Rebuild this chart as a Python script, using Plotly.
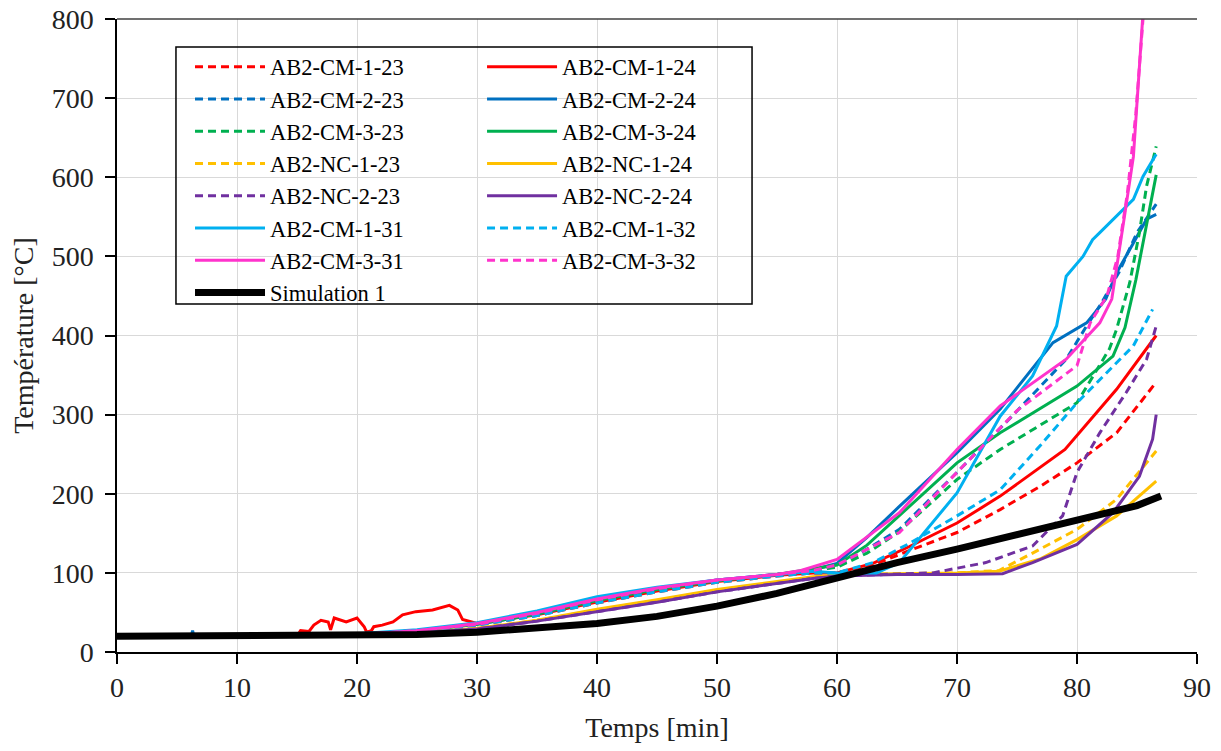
import plotly.graph_objects as go

FONT = "Liberation Serif"

# ---------------- data ----------------
# AB2-CM-1-23 (red, dashed)
cm1_23_t = [0, 20, 25, 30, 35, 40, 45, 50, 55, 58, 60, 63, 66, 70, 73.6, 77, 80, 83.3, 86.6]
cm1_23_T = [20, 22, 27, 34, 46, 62, 76, 88, 96, 100, 100, 110, 128, 151, 180, 210, 239, 277, 341]

# AB2-CM-1-24 (red, solid) - includes the noisy segment between 15 and 29 min
cm1_24_t = [0, 15, 15.3, 16, 16.4, 17, 17.6, 17.8, 18.1, 19.1, 20, 20.6, 20.8, 21.2, 21.4, 22.1,
            23, 23.8, 24.9, 26.3, 27.7, 28.4, 28.8, 30, 35, 40, 45, 50, 55, 58, 60, 63, 66,
            70, 73.6, 79, 83.3, 86.6]
cm1_24_T = [20, 20, 27, 26, 34, 40, 38, 28, 43, 38, 43, 32, 25, 27, 32, 34,
            38, 47, 51, 53, 59, 53, 41, 36, 47, 63, 77, 89, 97, 100, 100, 112, 133,
            163, 197, 256, 332, 400]

# AB2-CM-2-23 (dark blue, dashed)
cm2_23_t = [0, 20, 25, 30, 35, 40, 45, 50, 55, 58, 60, 62.5, 65.2, 70, 74.9, 79.1, 80.8, 82, 83.5, 85, 86.6]
cm2_23_T = [20, 22, 27, 35, 48, 65, 79, 90, 98, 103, 108, 130, 155, 227, 303, 370, 412, 440, 480, 530, 566]

# AB2-CM-2-24 (dark blue, solid)
cm2_24_t = [0, 6.2, 6.3, 6.4, 20, 25, 30, 35, 40, 45, 50, 55, 58, 60, 62.5, 65.2, 70, 73.6, 78,
            80.8, 82.4, 83.3, 84.7, 85.8, 86.6]
cm2_24_T = [20, 20, 27, 20, 22, 27, 35, 48, 66, 80, 91, 98, 104, 112, 145, 184, 252, 307, 391,
            416, 446, 479, 517, 547, 553]

# AB2-CM-3-23 (green, dashed)
cm3_23_t = [0, 20, 25, 30, 35, 40, 45, 50, 55, 58, 60, 62.5, 65, 70, 73.6, 80, 82.7, 83.3, 84.4, 85.2, 85.8, 86.6]
cm3_23_T = [20, 22, 27, 35, 48, 65, 79, 90, 98, 103, 107, 125, 150, 218, 256, 315, 383, 408, 467, 530, 589, 639]

# AB2-CM-3-24 (green, solid)
cm3_24_t = [0, 20, 25, 30, 35, 40, 45, 50, 55, 58, 60, 62.5, 65, 70, 73.6, 80, 83, 84, 84.9, 85.8, 86.6]
cm3_24_T = [20, 22, 27, 35, 48, 65, 79, 90, 98, 105, 110, 135, 170, 239, 277, 336, 374, 410, 470, 538, 603]

# AB2-NC-1-23 (yellow, dashed)
nc1_23_t = [0, 20, 25, 30, 35, 40, 45, 50, 55, 58, 60, 65, 70, 73.5, 76.3, 80, 83.3, 86.6]
nc1_23_T = [20, 21, 24, 30, 40, 53, 65, 78, 88, 94, 97, 99, 100, 103, 125, 155, 193, 254]

# AB2-NC-1-24 (yellow, solid)
nc1_24_t = [0, 20, 25, 30, 35, 40, 45, 50, 55, 58, 60, 65, 70, 73.5, 77, 80, 83.3, 86.6]
nc1_24_T = [20, 21, 24, 30, 40, 54, 66, 79, 89, 95, 97, 99, 100, 102, 118, 142, 172, 216]

# AB2-NC-2-23 (purple, dashed)
nc2_23_t = [0, 20, 25, 30, 35, 40, 45, 50, 55, 58, 60, 65, 68, 72.4, 76.3, 78.8, 80, 81.9, 84.1, 85.8, 86.6]
nc2_23_T = [20, 21, 24, 29, 39, 51, 63, 76, 87, 93, 96, 98, 100, 113, 134, 172, 227, 277, 328, 370, 412]

# AB2-NC-2-24 (purple, solid)
nc2_24_t = [0, 20, 25, 30, 35, 40, 45, 50, 55, 58, 60, 65, 70, 73.8, 76.3, 80, 83, 85.2, 86.3, 86.6]
nc2_24_T = [20, 21, 24, 29, 39, 51, 63, 76, 87, 93, 96, 98, 98, 99, 113, 136, 176, 222, 269, 300]

# AB2-CM-1-31 (light blue, solid)
cm1_31_t = [0, 20, 25, 30, 35, 40, 45, 50, 55, 58, 60, 63.3, 65.2, 70, 73.6, 76.3, 78.3, 79.1,
            80.5, 81.3, 81.9, 83, 83.8, 84.7, 85.5, 86.6]
cm1_31_T = [20, 23, 28, 37, 52, 70, 82, 91, 98, 102, 100, 100, 113, 201, 298, 349, 412, 475,
            500, 521, 530, 547, 559, 572, 601, 629]

# AB2-CM-1-32 (light blue, dashed)
cm1_32_t = [0, 20, 25, 30, 35, 40, 45, 50, 55, 58, 60, 63, 66, 70, 73.6, 77, 80, 84.7, 86.3]
cm1_32_T = [20, 22, 27, 34, 46, 62, 76, 88, 96, 100, 100, 113, 137, 172, 205, 262, 315, 387, 433]

# AB2-CM-3-31 (magenta, solid)
cm3_31_t = [0, 20, 25, 30, 35, 40, 45, 50, 55, 57, 60, 62.5, 65.2, 70, 73.6, 79.1, 81.9, 82.9,
            83.6, 84, 84.7, 85.2, 85.5, 85.6]
cm3_31_T = [20, 22, 27, 36, 50, 67, 81, 91, 98, 103, 117, 145, 176, 256, 311, 370, 416, 446,
            513, 555, 626, 740, 800, 830]

# AB2-CM-3-32 (magenta, dashed)
cm3_32_t = [0, 20, 25, 30, 35, 40, 45, 50, 55, 58, 60, 62.5, 65.2, 70, 75, 80, 81.1, 82.5,
            83.4, 84.2, 84.9, 85.5, 85.6]
cm3_32_T = [20, 22, 27, 35, 49, 66, 80, 91, 98, 103, 110, 130, 151, 227, 305, 362, 416, 450,
            500, 580, 680, 800, 830]

# Simulation 1 (black)
sim_t = [0, 10, 20, 25, 30, 35, 40, 45, 50, 55, 60, 65, 70, 75, 80, 85, 87]
sim_T = [20, 20, 20, 22, 25, 30, 36, 45, 58, 74, 94, 113, 130, 148, 165, 185, 197]

x_ticks = [0, 10, 20, 30, 40, 50, 60, 70, 80, 90]
y_ticks = [0, 100, 200, 300, 400, 500, 600, 700, 800]

# ---------------- styling ----------------
RED, BLUE, GREEN = "#FF0000", "#0070C0", "#00B050"
YELLOW, PURPLE = "#FFC000", "#7030A0"
CYAN, PINK = "#00B0F0", "#FF33CC"
DASH = "8px,5px"

series = [
    ("AB2-CM-1-23", cm1_23_t, cm1_23_T, RED, DASH, "legend"),
    ("AB2-CM-1-24", cm1_24_t, cm1_24_T, RED, "solid", "legend2"),
    ("AB2-CM-2-23", cm2_23_t, cm2_23_T, BLUE, DASH, "legend"),
    ("AB2-CM-2-24", cm2_24_t, cm2_24_T, BLUE, "solid", "legend2"),
    ("AB2-CM-3-23", cm3_23_t, cm3_23_T, GREEN, DASH, "legend"),
    ("AB2-CM-3-24", cm3_24_t, cm3_24_T, GREEN, "solid", "legend2"),
    ("AB2-NC-1-23", nc1_23_t, nc1_23_T, YELLOW, DASH, "legend"),
    ("AB2-NC-1-24", nc1_24_t, nc1_24_T, YELLOW, "solid", "legend2"),
    ("AB2-NC-2-23", nc2_23_t, nc2_23_T, PURPLE, DASH, "legend"),
    ("AB2-NC-2-24", nc2_24_t, nc2_24_T, PURPLE, "solid", "legend2"),
    ("AB2-CM-1-31", cm1_31_t, cm1_31_T, CYAN, "solid", "legend"),
    ("AB2-CM-1-32", cm1_32_t, cm1_32_T, CYAN, DASH, "legend2"),
    ("AB2-CM-3-31", cm3_31_t, cm3_31_T, PINK, "solid", "legend"),
    ("AB2-CM-3-32", cm3_32_t, cm3_32_T, PINK, DASH, "legend2"),
]

fig = go.Figure()
for name, t, T, color, dash, leg in series:
    fig.add_trace(go.Scatter(x=t, y=T, mode="lines", name=name, legend=leg,
                             line=dict(color=color, width=3, dash=dash)))
fig.add_trace(go.Scatter(x=sim_t, y=sim_T, mode="lines", name="Simulation 1", legend="legend",
                         line=dict(color="black", width=7)))

legend_common = dict(xanchor="left", yanchor="top", bgcolor="rgba(0,0,0,0)", borderwidth=0,
                     font=dict(family=FONT, size=22.5, color="black"), itemwidth=70,
                     tracegroupgap=0)

# the page adds an 8px body margin, so margins are reduced accordingly
fig.update_layout(
    width=1221, height=751,
    margin=dict(l=109, r=32, t=11, b=107, autoexpand=False),
    paper_bgcolor="white", plot_bgcolor="white",
    font=dict(family=FONT, size=28, color="#222222"),
    showlegend=True,
    legend=dict(x=0.0676, y=0.958, **legend_common),
    legend2=dict(x=0.338, y=0.958, **legend_common),
    xaxis=dict(range=[0, 90], tickvals=x_ticks, ticks="outside", ticklen=10, tickwidth=1.5,
               tickcolor="black", showline=True, linecolor="black", linewidth=1.5,
               showgrid=True, gridcolor="#D9D9D9", gridwidth=1, zeroline=False,
               automargin=False, ticklabeloverflow="allow",
               tickfont=dict(family=FONT, size=28, color="#222222"),
               title=dict(text="Temps [min]", font=dict(family=FONT, size=28, color="#222222"),
                          standoff=15)),
    yaxis=dict(range=[0, 800], tickvals=y_ticks, ticks="outside", ticklen=10, tickwidth=1.5,
               tickcolor="black", showline=True, linecolor="black", linewidth=1.5,
               showgrid=True, gridcolor="#D9D9D9", gridwidth=1, zeroline=False,
               automargin=False, ticklabelstandoff=6, ticklabeloverflow="allow",
               tickfont=dict(family=FONT, size=28, color="#222222"),
               title=dict(text="Température [°C]", font=dict(family=FONT, size=28, color="#222222"),
                          standoff=11)),
    shapes=[
        dict(type="line", xref="paper", yref="paper", x0=0, x1=1, y0=1, y1=1,
             line=dict(color="#404040", width=1.5)),
        dict(type="rect", xref="paper", yref="paper", x0=0.0546, x1=0.588, y0=0.5498, y1=0.9558,
             line=dict(color="black", width=1.5), fillcolor="rgba(0,0,0,0)"),
    ],
)

fig.write_html("out.html")
